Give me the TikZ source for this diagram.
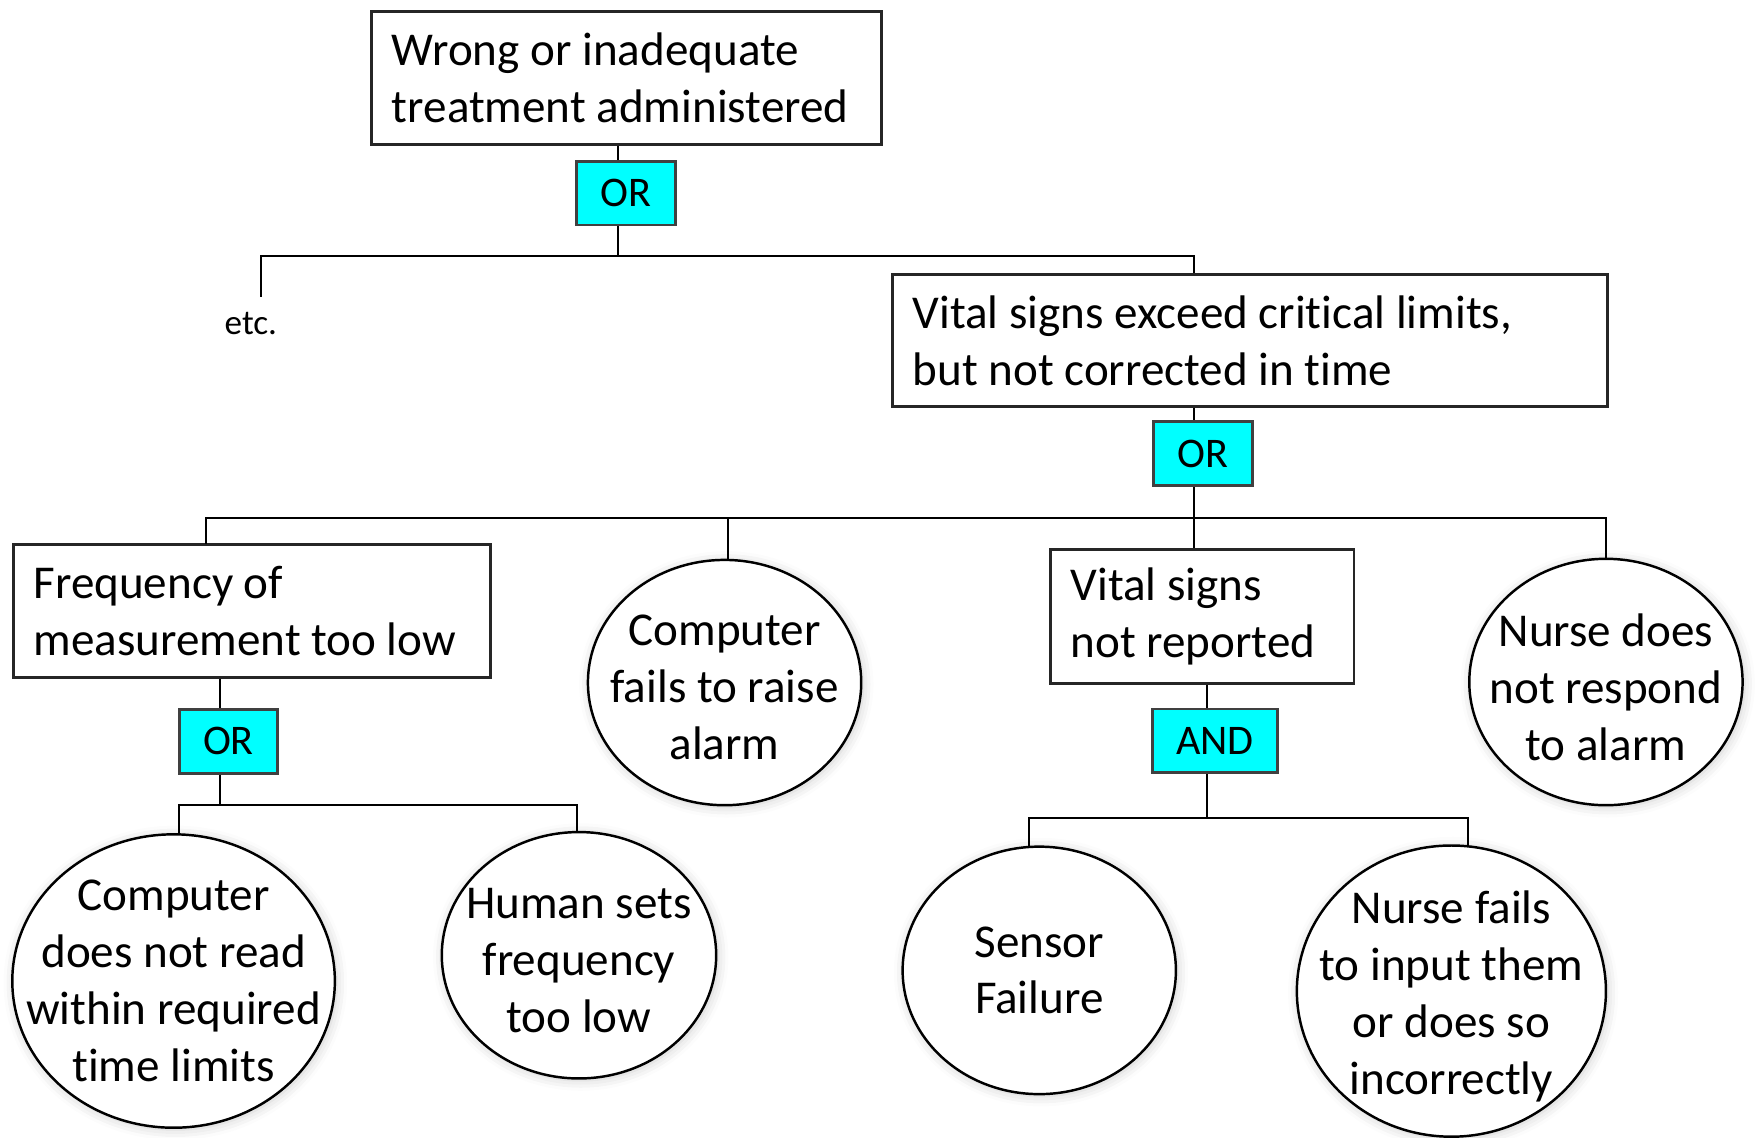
\documentclass[tikz,border=0pt]{standalone}
\usepackage{fontspec}
\setmainfont[Ligatures=NoCommon]{Carlito}
\usetikzlibrary{shapes.geometric,shadows.blur}
\definecolor{gatecyan}{RGB}{0,255,255}
\newcommand\boxline[1]{\mbox{\spaceskip=0pt\xspaceskip=0pt\relax #1}}
\begin{document}
\begin{tikzpicture}[x=0.0112cm,y=-0.0112cm,
  font=\fontsize{13.4}{16.2}\selectfont,
  box/.style={draw=black!85, line width=0.8pt, fill=white, inner sep=0pt, align=left},
  gate/.style={draw=black!75, line width=0.8pt, fill=gatecyan, inner sep=0pt,
    font=\fontsize{12}{14}\selectfont},
  event/.style={ellipse, draw=black, line width=0.7pt, fill=white, inner sep=0pt,
    blur shadow={shadow xshift=0.5pt, shadow yshift=-0.5pt, shadow blur radius=3pt, shadow opacity=20}},
  evtext/.style={align=center, inner sep=0pt},
  conn/.style={draw=black, line width=0.6pt}]
\useasboundingbox (0,0) rectangle (1568,1016);

% boxes
\node[box, minimum width=5.096cm, minimum height=1.333cm, text width=4.693cm] (top) at (559.5,69.5)
  {\boxline{Wrong or inadequate}\\\boxline{treatment administered}};
\node[box, minimum width=7.146cm, minimum height=1.322cm, text width=6.742cm] (vs) at (1116,304)
  {\boxline{Vital signs exceed critical limits,}\\\boxline{but not corrected in time}};
\node[box, minimum width=4.771cm, minimum height=1.333cm, text width=4.368cm] (freq) at (225,545.5)
  {\boxline{Frequency of}\\\boxline{measurement too low}};
\node[box, minimum width=3.035cm, minimum height=1.333cm, text width=2.632cm] (vsnr) at (1073.5,550.5)
  {\boxline{Vital signs}\\\boxline{not reported}};

% gates
\node[gate, minimum width=0.986cm, minimum height=0.638cm] (or1) at (559,172.5) {OR};
\node[gate, minimum width=0.991cm, minimum height=0.644cm] (or2) at (1074,405) {OR};
\node[gate, minimum width=0.986cm, minimum height=0.644cm] (or3) at (204,662) {OR};
\node[gate, minimum width=1.254cm, minimum height=0.638cm] (and1) at (1085,661.5) {AND};

% events (ellipse with its text as centre label)
\node[event, minimum width=2.733cm, minimum height=2.453cm,
  label={[evtext, name=t1, yshift=-0.05cm]center:{Computer\\fails to raise\\alarm}}] (e1) at (647,609.5) {};
\node[event, minimum width=2.733cm, minimum height=2.464cm,
  label={[evtext, name=t2, yshift=-0.05cm]center:{Nurse does\\not respond\\to alarm}}] (e2) at (1434,609) {};
\node[event, minimum width=3.226cm, minimum height=2.934cm,
  label={[evtext, name=t3]center:{Computer\\does not read\\within required\\time limits}}] (e3) at (155,876) {};
\node[event, minimum width=2.744cm, minimum height=2.464cm,
  label={[evtext, name=t4, yshift=-0.05cm]center:{Human sets\\frequency\\too low}}] (e4) at (517,853) {};
\node[event, minimum width=2.733cm, minimum height=2.475cm,
  label={[evtext, name=t5]center:{Sensor\\Failure}}] (e5) at (928,866.5) {};
\node[event, minimum width=3.091cm, minimum height=2.912cm,
  label={[evtext, name=t6, yshift=-0.05cm]center:{Nurse fails\\to input them\\or does so\\incorrectly}}] (e6) at (1296,885) {};

\node[font=\fontsize{10}{12}\selectfont] (etc) at (224,289) {etc.};

% branch coordinates
\coordinate (b1) at (552,229);
\coordinate (etcend) at (233,265);
\coordinate (b2) at (1066,462.5);
\coordinate (b3) at (196.7,719);
\coordinate (b4) at (1078,730.6);
\coordinate (fq) at (184,486);
\coordinate (d1) at (650,500);
\coordinate (d3) at (160,745);
\coordinate (d4) at (515,743);
\coordinate (d5) at (919,757);
\coordinate (d6) at (1311,756);

% level 1
\draw[conn] (top.south -| b1) -- (or1.north -| b1);
\draw[conn] (or1.south -| b1) -- (b1);
\draw[conn] (b1) -| (etcend);
\draw[conn] (b1) -| (vs.north -| b2);
% level 2
\draw[conn] (vs.south -| b2) -- (or2.north -| b2);
\draw[conn] (or2.south -| b2) -- (b2);
\draw[conn] (b2) -| (fq);
\draw[conn] (b2) -| (d1);
\draw[conn] (b2) -- (vsnr.north -| b2);
\draw[conn] (b2) -| (e2.north);
% level 3 left
\draw[conn] (freq.south -| b3) -- (or3.north -| b3);
\draw[conn] (or3.south -| b3) -- (b3);
\draw[conn] (b3) -| (d3);
\draw[conn] (b3) -| (d4);
% level 3 right
\draw[conn] (vsnr.south -| b4) -- (and1.north -| b4);
\draw[conn] (and1.south -| b4) -- (b4);
\draw[conn] (b4) -| (d5);
\draw[conn] (b4) -| (d6);
\end{tikzpicture}
\end{document}
